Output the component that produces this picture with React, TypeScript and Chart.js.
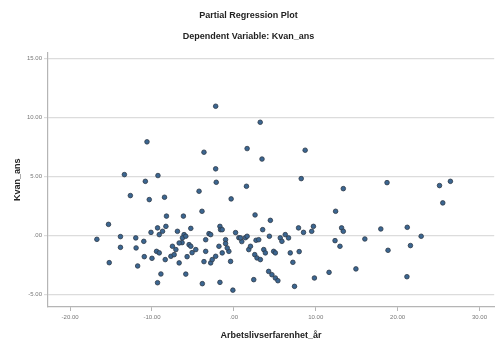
import React, { useEffect, useRef } from "react";
import { Chart, registerables } from "chart.js";

Chart.register(...registerables);

const titleText = "Partial Regression Plot";
const subtitleText = "Dependent Variable: Kvan_ans";
const xAxisTitle = "Arbetslivserfarenhet_år";
const yAxisTitle = "Kvan_ans";

const xTickValues = [-20, -10, 0, 10, 20, 30];
const yTickValues = [-5, 0, 5, 10, 15];

const xValues = [
  -2.22, 3.22, -10.61, -3.65, 1.62, 3.44, 8.71, -13.37, -10.81, -9.27,
  -2.22, -2.15, 1.54, 8.23, 13.37, 18.71, 25.12, 26.45, 25.52, -12.64,
  -10.33, -8.47, -4.25, -0.33, -3.89, -8.23, -6.16, 2.59, 12.43, -15.31,
  4.46, -16.73, -13.85, -13.85, -11.98, -11.94, -11.0, -15.22, -11.75, -10.94,
  -10.0, -10.12, -9.11, -8.71, -8.3, -9.32, -9.44, -9.11, -8.38, -8.91,
  -9.32, -7.69, -7.5, -7.08, -6.89, -6.32, -6.08, -6.68, -5.87, -5.26,
  -5.47, -5.1, -5.71, -3.85, -3.44, -3.04, -3.44, -3.65, -2.83, -2.64,
  -2.22, -1.82, -1.7, -1.62, -1.01, -1.01, -1.7, -0.4, -0.61, -0.12,
  0.21, 0.61, 1.42, 0.97, 1.62, 1.82, 2.55, 2.83, 2.71, 2.43,
  3.52, 4.34, 3.65, 3.85, 3.24, 4.86, 5.07, 5.67, 5.87, 6.28,
  6.68, 4.25, 4.65, 5.07, 5.38, 6.89, 7.98, 7.21, 7.41, 7.9,
  8.51, 9.51, 9.72, 9.84, 11.63, 12.36, 12.96, 13.16, 13.37, 14.91,
  16.0, 17.95, 18.83, 21.18, 21.57, 22.88, 21.14, -7.29, -6.68, -6.28,
  -5.87, -5.26, -4.65, -2.83, -1.42, -0.81, 0.81, 2.03, -1.42, 3.04
];

const yValues = [
  10.95, 9.59, 7.93, 7.05, 7.36, 6.47, 7.22, 5.15, 4.58, 5.07,
  5.64, 4.5, 4.16, 4.81, 3.96, 4.47, 4.22, 4.58, 2.75, 3.37,
  3.03, 3.23, 3.74, 3.09, 2.04, 1.63, 1.63, 1.73, 2.04, 0.93,
  1.27, -0.34, -0.11, -1.02, -0.22, -1.07, -0.51, -2.32, -2.6, -1.81,
  -1.95, 0.25, 0.06, 0.34, 0.76, 0.63, -1.36, -1.49, -2.06, -3.28,
  -4.02, -1.78, -0.93, -1.21, 0.34, -0.62, 0.06, -2.34, -3.29, 0.59,
  -0.79, -1.47, -1.81, -4.1, -0.37, 0.14, -1.36, -2.23, -2.34, -2.06,
  -1.78, -0.93, 0.76, 0.48, -0.37, -0.7, -3.99, -2.21, -1.36, -4.65,
  0.23, -0.2, -0.2, -0.53, -0.08, -1.21, -1.64, -1.92, -0.42, -3.76,
  0.48, -0.08, -1.21, -1.49, -2.06, -1.36, -1.49, -0.22, -0.51, 0.06,
  -0.22, -3.06, -3.34, -3.62, -3.85, -1.49, -1.38, -2.29, -4.33, 0.63,
  0.25, 0.34, 0.76, -3.62, -3.14, -0.45, -0.93, 0.63, 0.34, -2.85,
  -0.31, 0.54, -1.27, 0.68, -0.87, -0.08, -3.51, -1.64, -0.65, -0.22,
  -0.08, -0.93, -1.21, 0.06, 0.48, -1.07, -0.22, -0.93, -1.49, -0.37
];

const fmt = (v: number) => {
  if (v === 0) return ".00";
  return v.toFixed(2);
};

export default function App() {
  const ref = useRef<HTMLCanvasElement | null>(null);

  useEffect(() => {
    if (!ref.current) return;
    const points = xValues.map((x, i) => ({ x, y: yValues[i] }));
    const font = "'Liberation Sans', Arial, sans-serif";
    const chart = new Chart(ref.current, {
      type: "scatter",
      data: {
        datasets: [
          {
            data: points,
            backgroundColor: "#3b6691",
            borderColor: "#2e3a48",
            borderWidth: 0.8,
            pointRadius: 2.3,
          },
        ],
      },
      options: {
        animation: false,
        responsive: false,
        layout: { padding: { left: 0, right: 2, top: 0, bottom: 0 } },
        plugins: {
          legend: { display: false },
          tooltip: { enabled: false },
          title: {
            display: true,
            text: titleText,
            color: "#222",
            font: { family: font, size: 9, weight: "bold" },
            padding: { top: 10, bottom: 5 },
          },
          subtitle: {
            display: true,
            text: subtitleText,
            color: "#222",
            font: { family: font, size: 9, weight: "bold" },
            padding: { top: 5, bottom: 11 },
          },
        },
        scales: {
          x: {
            type: "linear",
            min: -22.7,
            max: 31.8,
            afterBuildTicks: (scale: any) => {
              scale.ticks = xTickValues.map((v) => ({ value: v }));
            },
            afterFit: (scale: any) => {
              scale.height = 40;
            },
            ticks: {
              callback: (v: any) => fmt(Number(v)),
              color: "#777",
              font: { family: font, size: 6 },
              padding: 3,
              maxRotation: 0,
            },
            grid: {
              drawOnChartArea: false,
              drawTicks: true,
              tickLength: 4,
              color: "#b5b5b5",
            },
            border: { color: "#b5b5b5", width: 1.2 },
            title: {
              display: true,
              text: xAxisTitle,
              color: "#222",
              font: { family: font, size: 9, weight: "bold" },
              padding: { top: 4, bottom: 6 },
            },
          },
          y: {
            type: "linear",
            min: -6.08,
            max: 15.5,
            afterBuildTicks: (scale: any) => {
              scale.ticks = yTickValues.map((v) => ({ value: v }));
            },
            afterFit: (scale: any) => {
              scale.width = 48;
            },
            ticks: {
              callback: (v: any) => fmt(Number(v)),
              color: "#777",
              font: { family: font, size: 6 },
              padding: 2,
            },
            grid: {
              color: "#dcdcdc",
              lineWidth: 1.2,
              drawTicks: true,
              tickLength: 4,
            },
            border: { color: "#b5b5b5", width: 1.2 },
            title: {
              display: true,
              text: yAxisTitle,
              color: "#222",
              font: { family: font, size: 9, weight: "bold" },
              padding: { top: 12, bottom: 4 },
            },
          },
        },
      },
    });
    return () => chart.destroy();
  }, []);

  return (
    <div style={{ position: "absolute", left: 0, top: 0, width: 499, height: 347, background: "#fff" }}>
      <canvas ref={ref} width={499} height={347} />
    </div>
  );
}
